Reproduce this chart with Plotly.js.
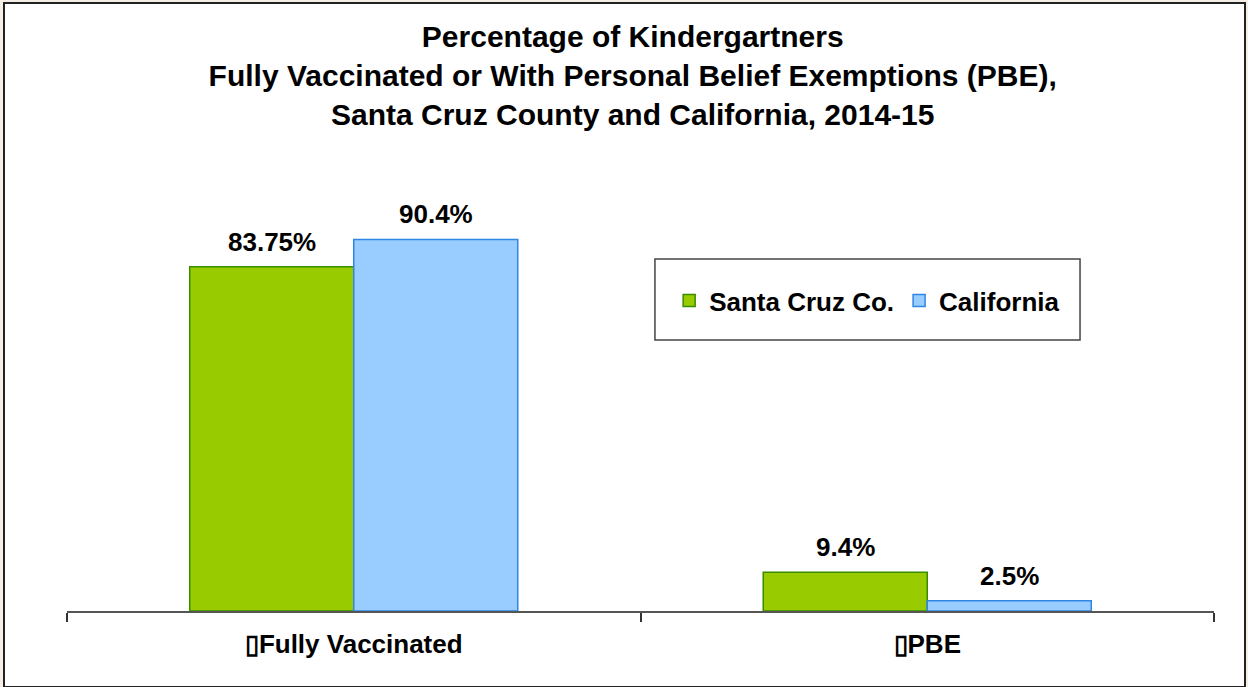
<!DOCTYPE html>
<html>
<head>
<meta charset="utf-8">
<script src="https://cdn.plot.ly/plotly-3.0.1.min.js"></script>
<style>
  html, body { margin: 0; padding: 0; background: #f5eee6; width: 1248px; height: 687px; overflow: hidden; }
  #frame { position: absolute; left: 3px; top: 2px; width: 1239px; height: 682px; background: #ffffff; border: 2px solid #222222; }
  #chart { position: absolute; left: 0; top: 0; width: 1248px; height: 687px; }
</style>
</head>
<body>
<div id="frame"></div>
<div id="chart"></div>
<script>
// ---- data ----
const categories = ["\u25AFFully Vaccinated", "\u25AFPBE"];
const seriesNames = ["Santa Cruz Co.", "California"];
const santaCruz = [83.75, 9.4];
const california = [90.4, 2.5];
const titleText = "Percentage of Kindergartners<br>Fully Vaccinated or With Personal Belief Exemptions (PBE),<br>Santa Cruz County and California, 2014-15";

const FONT = '"Liberation Sans", Arial, sans-serif';
const series = [santaCruz, california];
const fills = ["#99cc00", "#99ccff"];
const lines = ["#3a8c00", "#2f86e6"];

const traces = series.map((vals, i) => ({
  type: "bar",
  name: seriesNames[i],
  x: categories,
  y: vals,
  marker: { color: fills[i], line: { color: lines[i], width: 1.5 } },
  hoverinfo: "skip"
}));

const annotations = [];
series.forEach((vals, i) => {
  vals.forEach((v, j) => {
    annotations.push({
      x: categories[j], y: v, xref: "x", yref: "y",
      text: v + "%", showarrow: false,
      xshift: i === 0 ? -82 : 82, yshift: 8,
      yanchor: "bottom", xanchor: "center",
      font: { family: FONT, size: 26, color: "#000", weight: 700 }
    });
  });
});

const layout = {
  width: 1248, height: 687,
  paper_bgcolor: "rgba(0,0,0,0)",
  plot_bgcolor: "rgba(0,0,0,0)",
  margin: { l: 67, r: 34, t: 200, b: 76 },
  font: { family: FONT, size: 26, color: "#000", weight: 700 },
  title: {
    text: titleText,
    font: { family: FONT, size: 30, color: "#000", weight: 700 },
    xref: "container", x: 0.507, xanchor: "center",
    yref: "container", y: 0.932, yanchor: "top"
  },
  barmode: "group",
  bargap: 0.428,
  bargroupgap: 0,
  xaxis: {
    type: "category",
    showline: true, linecolor: "#555555", linewidth: 2,
    ticks: "outside", tickson: "boundaries", ticklen: 9, tickwidth: 2, tickcolor: "#333333",
    showgrid: false, zeroline: false,
    tickfont: { family: FONT, size: 26, color: "#000", weight: 700 },
    ticklabelstandoff: 9
  },
  yaxis: {
    range: [0, 100], visible: false, showgrid: false, zeroline: false, fixedrange: true
  },
  showlegend: true,
  legend: {
    orientation: "h",
    x: 0.525, xanchor: "left",
    y: 0.755, yanchor: "middle",
    bgcolor: "rgba(0,0,0,0)", borderwidth: 0,
    font: { family: FONT, size: 26, color: "#000", weight: 700 },
    traceorder: "normal"
  },
  shapes: [{
    type: "rect", xref: "paper", yref: "paper",
    x0: 0.5126, x1: 0.8832, y0: 0.6594, y1: 0.8564,
    line: { color: "#444444", width: 1.5 }, fillcolor: "#ffffff", layer: "below"
  }],
  annotations: annotations
};

Plotly.newPlot("chart", traces, layout, { displayModeBar: false, staticPlot: true });
</script>
</body>
</html>
